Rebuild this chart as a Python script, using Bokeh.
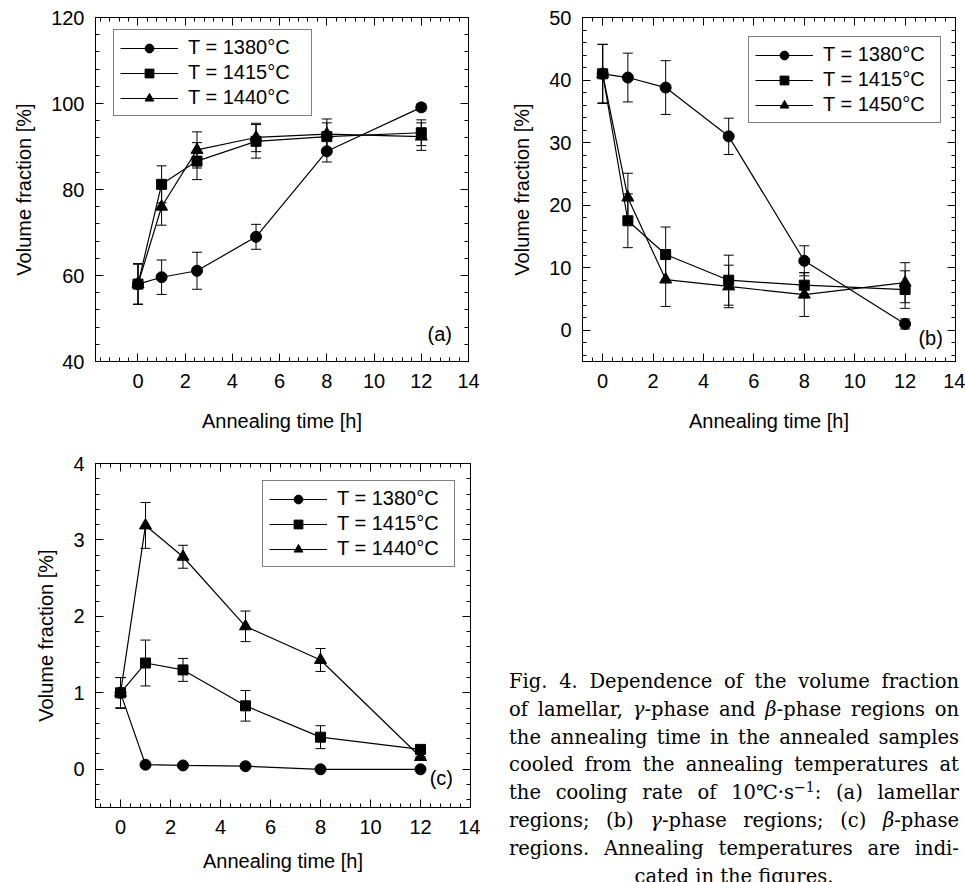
from bokeh.plotting import figure
from bokeh.models import (ColumnDataSource, Whisker, TeeHead, LinearAxis,
                          SingleIntervalTicker, Range1d, Label, Div)
from bokeh.layouts import row, column
from bokeh.embed import file_html
from bokeh.resources import INLINE

FONT = "Liberation Sans"

# ---------------- data ----------------
times = [0, 1, 2.5, 5, 8, 12]

# (a) lamellar regions
a_labels = ["T = 1380°C", "T = 1415°C", "T = 1440°C"]
a_1380 = [58.0, 59.6, 61.1, 69.0, 88.9, 99.1]
a_1380_err = [4.7, 4.0, 4.3, 2.9, 2.5, 0.8]
a_1415 = [58.0, 81.2, 86.6, 91.2, 92.3, 93.2]
a_1415_err = [4.7, 4.3, 4.3, 3.9, 3.2, 3.0]
a_1440 = [58.0, 76.0, 89.2, 92.1, 92.9, 92.3]
a_1440_err = [4.7, 4.3, 4.2, 3.3, 3.5, 3.2]

# (b) gamma-phase regions
b_labels = ["T = 1380°C", "T = 1415°C", "T = 1450°C"]
b_1380 = [41.0, 40.4, 38.8, 31.0, 11.1, 1.0]
b_1380_err = [4.7, 3.9, 4.3, 2.9, 2.4, 0.8]
b_1415 = [41.0, 17.5, 12.1, 8.0, 7.2, 6.5]
b_1415_err = [4.7, 4.3, 4.4, 4.0, 2.0, 3.0]
b_1450 = [41.0, 21.2, 8.1, 7.0, 5.7, 7.6]
b_1450_err = [4.7, 3.9, 4.3, 3.4, 3.5, 3.2]

# (c) beta-phase regions
c_labels = ["T = 1380°C", "T = 1415°C", "T = 1440°C"]
c_1380 = [1.0, 0.06, 0.05, 0.04, 0.0, 0.0]
c_1380_err = [0.2, 0.0, 0.0, 0.0, 0.0, 0.0]
c_1415 = [1.0, 1.39, 1.30, 0.83, 0.42, 0.26]
c_1415_err = [0.2, 0.3, 0.15, 0.2, 0.15, 0.0]
c_1440 = [1.0, 3.19, 2.78, 1.87, 1.43, 0.16]
c_1440_err = [0.2, 0.3, 0.15, 0.2, 0.15, 0.0]

markers = ["circle", "square", "triangle"]
marker_sizes = [11, 10, 12]

# caption, one list of words per printed line
caption_lines = [
    ["Fig.", "4.", "Dependence", "of", "the", "volume", "fraction"],
    ["of", "lamellar,", "<i>γ</i>-phase", "and", "<i>β</i>-phase", "regions", "on"],
    ["the", "annealing", "time", "in", "the", "annealed", "samples"],
    ["cooled", "from", "the", "annealing", "temperatures", "at"],
    ["the", "cooling", "rate", "of", "10℃·s<sup>−1</sup>:", "(a)", "lamellar"],
    ["regions;", "(b)", "<i>γ</i>-phase", "regions;", "(c)", "<i>β</i>-phase"],
    ["regions.", "Annealing", "temperatures", "are", "indi-"],
]
caption_last = "cated in the figures."


def make_panel(width, height, b_left, b_right, b_top, b_bottom, xr, yr, ytick,
               series, labels, legend_loc, legend_label_w, tag, tag_xy,
               xlab_standoff):
    p = figure(width=width, height=height, x_range=Range1d(*xr), y_range=Range1d(*yr),
               min_border_left=b_left, min_border_right=b_right,
               min_border_top=b_top, min_border_bottom=b_bottom,
               toolbar_location=None, output_backend="svg")
    p.xgrid.visible = False
    p.ygrid.visible = False
    p.outline_line_color = "black"
    p.outline_line_width = 1
    p.background_fill_color = "white"
    p.border_fill_color = "white"

    def style(ax, labels_on):
        ax.axis_line_color = "black"
        ax.major_tick_in = 8
        ax.major_tick_out = 0
        ax.minor_tick_in = 4
        ax.minor_tick_out = 0
        ax.major_tick_line_color = "black"
        ax.minor_tick_line_color = "black"
        if labels_on:
            ax.major_label_text_font = FONT
            ax.major_label_text_font_size = "20px"
            ax.major_label_text_color = "black"
            ax.major_label_standoff = 12
            ax.axis_label_text_font = FONT
            ax.axis_label_text_font_size = "20px"
            ax.axis_label_text_font_style = "normal"
            ax.axis_label_text_color = "black"
        else:
            ax.major_label_text_font_size = "1px"
            ax.major_label_text_color = None
            ax.major_label_standoff = 0
            ax.axis_label = None

    xa = p.xaxis[0]
    xa.ticker = SingleIntervalTicker(interval=2, num_minor_ticks=5)
    xa.axis_label = "Annealing time [h]"
    style(xa, True)
    xa.axis_label_standoff = xlab_standoff
    ya = p.yaxis[0]
    ya.ticker = SingleIntervalTicker(interval=ytick, num_minor_ticks=5)
    ya.axis_label = "Volume fraction [%]"
    style(ya, True)
    ya.major_label_standoff = 11
    ya.axis_label_standoff = 13

    top = LinearAxis(ticker=SingleIntervalTicker(interval=2, num_minor_ticks=5))
    style(top, False)
    p.add_layout(top, "above")
    right = LinearAxis(ticker=SingleIntervalTicker(interval=ytick, num_minor_ticks=5))
    style(right, False)
    p.add_layout(right, "right")

    for (vals, errs), lab, mk, ms in zip(series, labels, markers, marker_sizes):
        src = ColumnDataSource(dict(
            x=times, y=vals,
            lower=[v - e for v, e in zip(vals, errs)],
            upper=[v + e for v, e in zip(vals, errs)]))
        w = Whisker(source=src, base="x", lower="lower", upper="upper",
                    line_color="black", line_width=1,
                    upper_head=TeeHead(size=10, line_color="black", line_width=1),
                    lower_head=TeeHead(size=10, line_color="black", line_width=1))
        p.add_layout(w)
        p.line("x", "y", source=src, line_color="black", line_width=1.2, legend_label=lab)
        p.scatter("x", "y", source=src, marker=mk, size=ms, fill_color="black",
                  line_color="black", legend_label=lab)

    lg = p.legend[0]
    lg.location = legend_loc
    lg.margin = 0
    lg.padding = 6
    lg.spacing = 2
    lg.glyph_width = 58
    lg.glyph_height = 22
    lg.label_height = 22
    lg.label_width = legend_label_w
    lg.label_standoff = 10
    lg.label_text_font = FONT
    lg.label_text_font_size = "20px"
    lg.label_text_color = "black"
    lg.border_line_color = "black"
    lg.border_line_width = 1
    lg.background_fill_color = "white"
    lg.background_fill_alpha = 1.0

    p.add_layout(Label(x=tag_xy[0], y=tag_xy[1], text=tag, text_align="right",
                       text_baseline="middle", text_font=FONT, text_font_size="20px",
                       text_color="black"))
    return p


pa = make_panel(480, 448, 95, 12, 17, 87, (-1.8, 14), (40, 120), 20,
                [(a_1380, a_1380_err), (a_1415, a_1415_err), (a_1440, a_1440_err)],
                a_labels, (18, 245), 117, "(a)", (13.3, 46.3), 19)
pb = make_panel(485, 448, 102, 10, 17, 87, (-0.8, 14), (-5, 50), 10,
                [(b_1380, b_1380_err), (b_1415, b_1415_err), (b_1450, b_1450_err)],
                b_labels, (166, 238), 111, "(b)", (13.5, -1.2), 19)
pc = make_panel(480, 434, 95, 10, 15, 75, (-1.0, 14), (-0.5, 4), 1,
                [(c_1380, c_1380_err), (c_1415, c_1415_err), (c_1440, c_1440_err)],
                c_labels, (167, 240), 111, "(c)", (13.3, -0.12), 13)

css = ("<style>sup{font-size:0.72em; line-height:0; vertical-align:0.5em;}"
       ".ln{display:flex; justify-content:space-between; align-items:baseline;"
       " white-space:nowrap;}"
       ".last{text-align:center; white-space:nowrap;}</style>")
line_html = "".join(
    "<div class='ln'>" + "".join(f"<span>{w}</span>" for w in words) + "</div>"
    for words in caption_lines)
line_html += f"<div class='last'>{caption_last}</div>"
cap_html = (css + "<div style=\"font-family:'DejaVu Serif'; font-size:19.5px; "
            "line-height:27.8px; color:black; width:450px; margin-left:24px; "
            "margin-top:215px;\">" + line_html + "</div>")
cap = Div(text=cap_html, width=485, height=434, styles={"overflow": "hidden"})

layout = column(row(pa, pb), row(pc, cap))

open("out.html", "w").write(file_html(layout, INLINE))
